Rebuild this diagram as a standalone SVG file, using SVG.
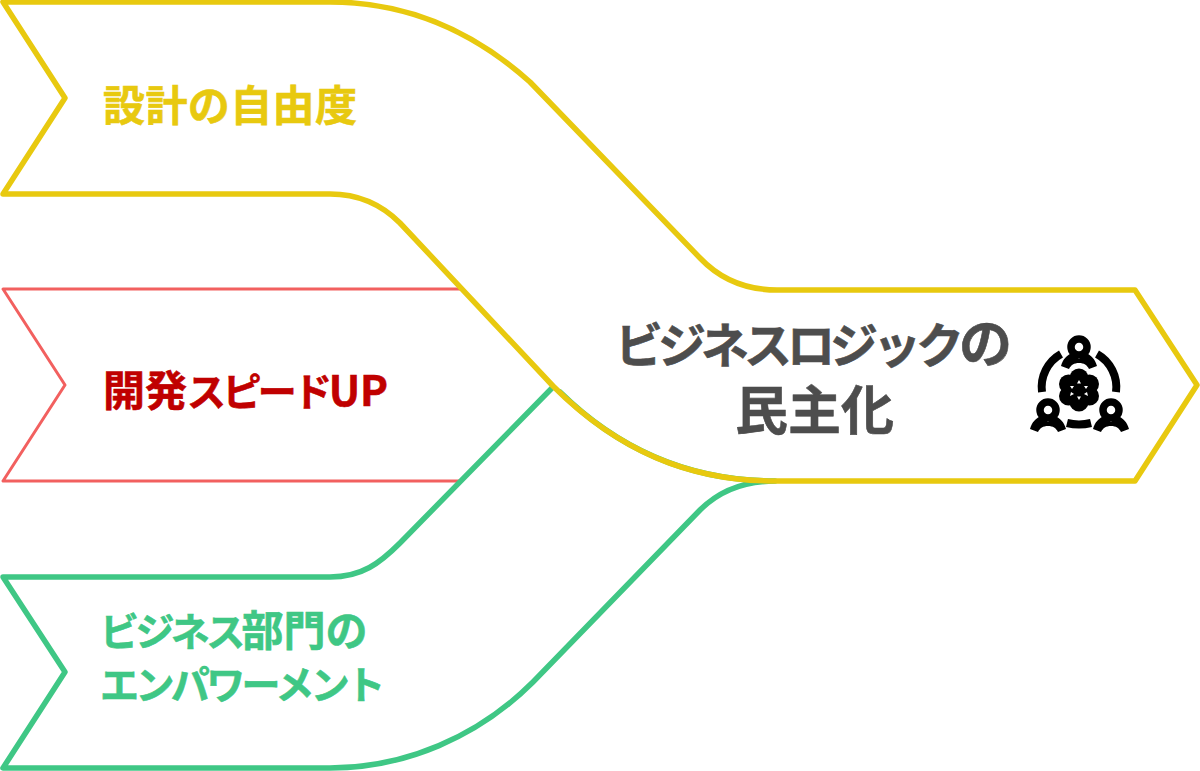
<svg xmlns="http://www.w3.org/2000/svg" width="1200" height="771" viewBox="0 0 1200 771">
<style>
.s{fill:none;stroke-linejoin:round;stroke-linecap:round}
.y{stroke:#e8c90f;stroke-width:5.500}
.g{stroke:#3fc785;stroke-width:5.500}
.r{stroke:#f2605f;stroke-width:3}
text{font-family:"Noto Sans CJK JP","Noto Sans",sans-serif;font-weight:700;stroke-width:.6px}
.t{font-size:42px}
.m{font-size:53px;fill:#4d4d4d;stroke:#4d4d4d}
.kt{font-size:39px;letter-spacing:-3.600px}
.km{font-size:48px;letter-spacing:-5px}
.k{fill:#000}
.ks{fill:none;stroke:#000}
</style>
<rect width="1200" height="771" fill="#fff"/>
<g id="connectors"></g>
<g id="node-red">
<path class="s r" d="M460,289H3L65,385L3,481H460"/>
<text class="t" x="103" y="406" fill="#c00000" stroke="#c00000">開発<tspan class="kt">スピード</tspan>UP</text>
</g>
<g id="node-green">
<path class="s g" d="M552,388L400,543C380,563 362,577 330,577H3L65,672L3,768H330C405,768 478,737 533,682L700,510C720,490 745,481 775,481C690,481 620,451 560,392"/>
<text class="t" x="100" y="646" fill="#3fc785" stroke="#3fc785"><tspan class="kt">ビジネス</tspan>部門の</text>
<text class="t" x="100" y="699" fill="#3fc785" stroke="#3fc785"><tspan class="kt">エンパワーメント</tspan></text>
</g>
<g id="node-yellow">
<path class="s y" d="M3,2H330C405,2 472,30 530,82L700,258C720,279 745,290 777,290H1135L1197,385L1135,481H775C690,481 618,451 553,386L400,223C381,204 358,194 330,194H3L65,98Z"/>
<text class="t" x="103" y="121" fill="#e8c90f" stroke="#e8c90f" letter-spacing=".4">設計の自由度</text>
<text class="m" x="615" y="363"><tspan class="km">ビジネスロジック</tspan>の</text>
<text class="m" x="735" y="430">民主化</text>
</g>
<g id="icon">
<g id="person-top">
<circle class="ks" cx="1079" cy="347" r="8" stroke-width="7.500"/>
<path class="k" d="M1061,366C1063,359 1067,355 1072,353L1079,359L1086,353C1091,355 1095,359 1097,366L1089,369C1087,365 1084,363 1079,363C1074,363 1071,365 1069,369Z"/>
</g>
<g id="person-left">
<circle class="ks" cx="1048" cy="410" r="8" stroke-width="7.500"/>
<path class="k" d="M1030,429C1032,422 1036,418 1041,416L1048,422L1055,416C1060,418 1064,422 1066,429L1058,432C1056,428 1053,426 1048,426C1043,426 1040,428 1038,432Z"/>
</g>
<g id="person-right">
<circle class="ks" cx="1111" cy="410" r="8" stroke-width="7.500"/>
<path class="k" d="M1093,429C1095,422 1099,418 1104,416L1111,422L1118,416C1123,418 1127,422 1129,429L1121,432C1119,428 1116,426 1111,426C1106,426 1103,428 1101,432Z"/>
</g>
<path class="ks" stroke-width="8" d="M1042,392A38,38 0 0 1 1061,354M1097,354A38,38 0 0 1 1116,392M1067,423Q1079,426 1091,423"/>
<g id="flower">
<circle class="k" cx="1079" cy="390" r="14"/>
<circle class="k" cx="1079" cy="378" r="9.500"/>
<circle class="k" cx="1079" cy="402" r="9.500"/>
<circle class="k" cx="1068.500" cy="384" r="9.500"/>
<circle class="k" cx="1089.500" cy="384" r="9.500"/>
<circle class="k" cx="1068.500" cy="396" r="9.500"/>
<circle class="k" cx="1089.500" cy="396" r="9.500"/>
<path fill="#fff" d="M1079,380l2,3.500h-4zM1079,400l2,-3.500h-4zM1070,386l4,0l-2,3zM1088,386l-4,0l2,3zM1070,396l4,-2l-3,-2zM1088,396l-4,-2l3,-2z"/>
</g>
</g>
</svg>
